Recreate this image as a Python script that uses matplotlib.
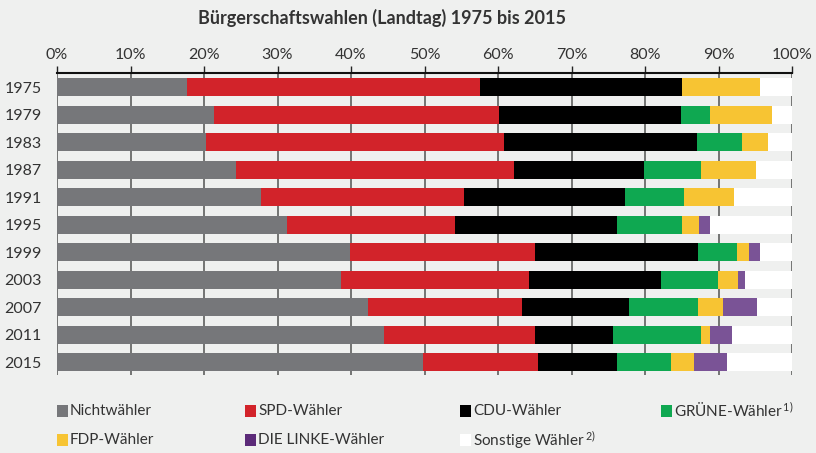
import matplotlib.pyplot as plt
import matplotlib.patches as mpatches
import numpy as np

plt.rcParams["font.family"] = ["Lato", "DejaVu Sans"]
plt.rcParams["mathtext.default"] = "regular"

years = ["1975", "1979", "1983", "1987", "1991", "1995",
         "1999", "2003", "2007", "2011", "2015"]

# share of all eligible voters, in percent
nichtwaehler = [17.7, 21.4, 20.3, 24.4, 27.8, 31.3, 39.9, 38.6, 42.3, 44.5, 49.8]
spd = [39.8, 38.7, 40.5, 37.8, 27.6, 22.8, 25.2, 25.6, 20.9, 20.5, 15.7]
cdu = [27.6, 24.8, 26.3, 17.6, 21.9, 22.1, 22.1, 18.0, 14.6, 10.7, 10.7]
gruene = [0.0, 4.0, 6.1, 7.8, 8.0, 8.8, 5.3, 7.7, 9.4, 11.9, 7.3]
fdp = [10.6, 8.4, 3.6, 7.5, 6.8, 2.4, 1.6, 2.7, 3.4, 1.3, 3.1]
linke = [0.0, 0.0, 0.0, 0.0, 0.0, 1.5, 1.6, 1.0, 4.7, 2.9, 4.6]
sonstige = [4.3, 2.7, 3.2, 4.9, 7.9, 11.1, 4.3, 6.4, 4.7, 8.2, 8.8]

series = [nichtwaehler, spd, cdu, gruene, fdp, linke, sonstige]
labels = ["Nichtwähler", "SPD-Wähler", "CDU-Wähler", "GRÜNE-Wähler",
          "FDP-Wähler", "DIE LINKE-Wähler", "Sonstige Wähler"]
notes = ["", "", "", "1)", "", "", "2)"]
colors = ["#76777a", "#d2232a", "#000000", "#0fa851",
          "#f7c433", "#7a5396", "#ffffff"]
legend_colors = ["#76777a", "#d2232a", "#000000", "#0fa851",
                 "#f7c433", "#5b2a78", "#ffffff"]

bg = "#eff0ef"
fig = plt.figure(figsize=(8.16, 4.53), dpi=100, facecolor=bg)
W, H = 816, 453
ax = fig.add_axes([57 / W, (H - 375) / H, 735 / W, 302 / H])
ax.set_facecolor(bg)

y = np.arange(len(years))
left = np.zeros(len(years))
for vals, col in zip(series, colors):
    ax.barh(y, vals, left=left, height=0.655, color=col, zorder=3)
    left += np.array(vals)

ax.set_xlim(0, 100)
ax.set_ylim(10.47, -0.51)
ax.set_xticks(np.arange(0, 101, 10))
ax.set_xticklabels([f"{v}%" for v in range(0, 101, 10)])
ax.xaxis.tick_top()
ax.tick_params(axis="x", direction="out", length=5, width=1, color="#222222",
               pad=3, labelsize=11.5, labelcolor="#333333")
ax.set_yticks(y)
ax.set_yticklabels(years)
ax.tick_params(axis="y", length=0, pad=11, labelsize=11.5, labelcolor="#333333")
ax.grid(axis="x", color="#6a6a6a", linewidth=1.3, zorder=1)
for s in ["left", "right", "bottom"]:
    ax.spines[s].set_visible(False)
ax.spines["top"].set_linewidth(1.5)
ax.spines["top"].set_color("#111111")

fig.text(382 / W, 1 - 18 / H, "Bürgerschaftswahlen (Landtag) 1975 bis 2015",
         ha="center", va="center", fontsize=13, fontweight="bold", color="#333333")

# legend, two rows
col_x = [57, 245, 460, 661]
row_y = [411, 440]
for i, (lab, col, note) in enumerate(zip(labels, legend_colors, notes)):
    r, c = divmod(i, 4)
    x0 = col_x[c]
    yc = row_y[r]
    fig.patches.append(mpatches.Rectangle((x0 / W, (H - yc - 6) / H), 11 / W, 12 / H,
                                          transform=fig.transFigure,
                                          facecolor=col, edgecolor="none"))
    txt = lab + (f"$^{{\\,{note}}}$" if note else "")
    fig.text((x0 + 13) / W, (H - yc) / H, txt, ha="left", va="center",
             fontsize=11, color="#333333")

fig.savefig("out.png", dpi=100, facecolor=bg)
